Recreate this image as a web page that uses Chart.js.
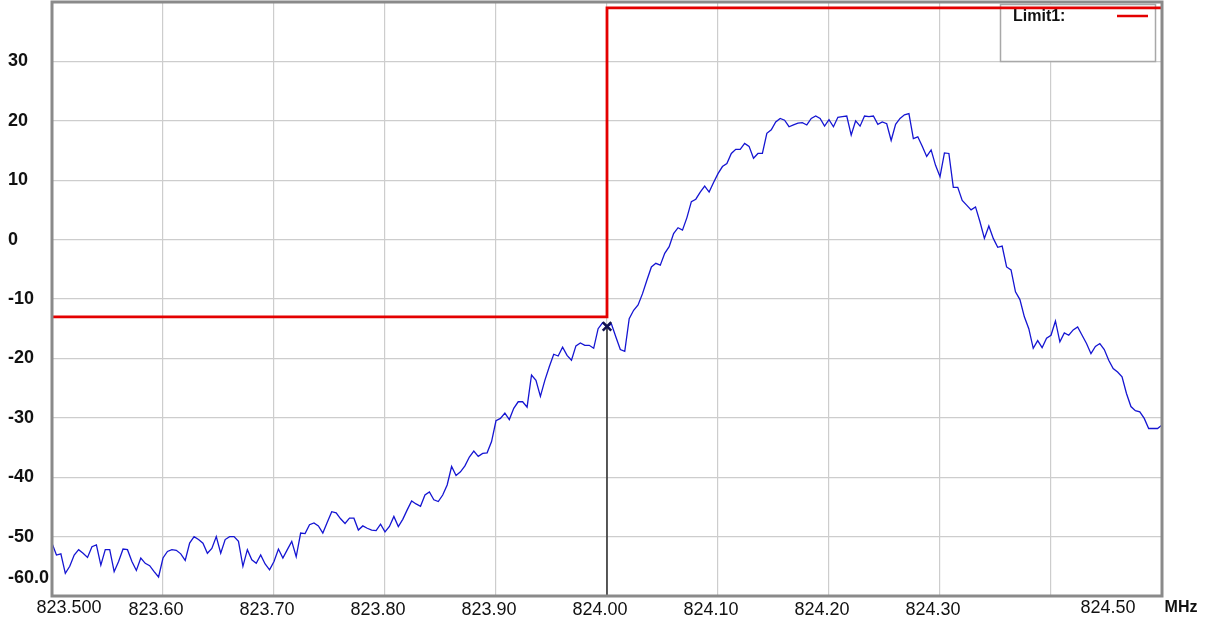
<!DOCTYPE html>
<html>
<head>
<meta charset="utf-8">
<script src="https://cdn.jsdelivr.net/npm/chart.js@4.4.0/dist/chart.umd.min.js"></script>
<style>
  html, body { margin: 0; padding: 0; background: #fff; }
  canvas { display: block; }
</style>
</head>
<body>
<canvas id="spectrum" width="1208" height="620"></canvas>
<script>
// sweep: 823.5 .. 824.5 MHz, one point every 4 kHz
var startFreq = 823.5;
var stopFreq = 824.5;
var freqStep = 0.004;

// trace level per sweep point, dBm
var levels = [
  -51.1, -53.1, -52.9, -56.2, -55.0, -53.1, -52.2, -52.8, -53.5, -51.7,
  -51.4, -54.8, -52.2, -52.2, -55.9, -54.2, -52.1, -52.2, -54.2, -55.7,
  -53.6, -54.5, -54.9, -55.9, -56.8, -53.6, -52.5, -52.2, -52.3, -52.9,
  -54.0, -51.1, -50.0, -50.5, -51.1, -52.8, -52.0, -50.0, -52.8, -50.5,
  -50.0, -50.0, -50.8, -55.0, -52.2, -53.9, -54.5, -53.1, -54.6, -55.6,
  -54.2, -52.1, -53.6, -52.2, -50.8, -53.4, -49.4, -49.5, -48.0, -47.7,
  -48.2, -49.4, -47.6, -45.8, -46.0, -47.0, -47.8, -46.9, -46.9, -48.9,
  -48.2, -48.6, -48.9, -49.0, -47.9, -49.2, -48.3, -46.6, -48.3, -47.1,
  -45.5, -44.0, -44.5, -44.9, -43.0, -42.5, -43.8, -44.1, -43.0, -41.3,
  -38.2, -39.7, -39.1, -38.1, -36.6, -35.6, -36.5, -36.0, -35.9, -34.0,
  -30.5, -30.1, -29.2, -30.3, -28.4, -27.3, -27.3, -28.2, -22.8, -23.7,
  -26.4, -23.7, -21.4, -19.3, -19.6, -18.1, -19.5, -20.3, -17.9, -17.4,
  -17.8, -17.8, -18.3, -15.0, -14.0, -14.7, -14.2, -16.4, -18.5, -18.8,
  -13.3, -11.9, -11.0, -9.1, -6.8, -4.6, -4.0, -4.3, -2.3, -1.2,
  1.0, 2.0, 1.6, 3.7, 6.4, 6.8, 8.0, 9.0, 8.0, 9.6,
  11.1, 12.3, 12.8, 14.5, 15.2, 15.2, 16.2, 15.7, 13.7, 14.5,
  14.5, 17.9, 18.5, 19.8, 20.4, 20.1, 19.0, 19.3, 19.6, 19.7,
  19.3, 20.4, 20.8, 20.4, 19.1, 20.2, 19.0, 20.6, 20.7, 20.8,
  17.6, 20.0, 19.1, 20.8, 20.7, 20.8, 19.4, 19.8, 19.5, 16.7,
  19.4, 20.4, 21.0, 21.2, 17.0, 17.3, 15.7, 14.0, 15.1, 12.5,
  10.6, 14.6, 14.5, 8.8, 8.8, 6.6, 5.8, 5.0, 5.5, 3.0,
  0.2, 2.3, 0.2, -1.3, -1.1, -4.6, -5.1, -8.8, -10.1, -13.0,
  -15.0, -18.3, -17.0, -18.2, -16.6, -16.1, -13.7, -17.2, -15.7, -16.1,
  -15.2, -14.7, -16.1, -17.5, -19.2, -18.0, -17.5, -18.5, -20.3, -21.7,
  -22.3, -23.1, -25.9, -28.1, -28.8, -29.0, -30.1, -31.8, -31.8, -31.8,
  -31.2
];

// limit line Limit1, MHz / dBm
var limitFreqs = [823.5, 824.0, 824.0, 824.5];
var limitLevels = [-13, -13, 39, 39];

// marker
var markerFreq = 824.0;
var markerLevel = -14.6;

// axis labels
var freqLabels = ['823.500', '823.60', '823.70', '823.80', '823.90', '824.00',
                  '824.10', '824.20', '824.30', '', '824.50'];
var levelLabels = ['-60.0', '-50', '-40', '-30', '-20', '-10', '0', '10', '20', '30', ''];
var freqUnit = 'MHz';

var fontFamily = '"Liberation Sans", Arial, sans-serif';

var trace = levels.map(function(v, i) {
    return { x: startFreq + i * freqStep, y: v };
});
var limit = limitFreqs.map(function(f, i) {
    return { x: f, y: limitLevels[i] };
});

// frame, legend box and the labels that sit off their ticks
var extras = {
    id: 'extras',
    beforeDatasetsDraw: function(chart) {
        var ctx = chart.ctx;
        var area = chart.chartArea;
        var bx = area.right - 162, by = area.top + 2, bw = 155, bh = 57;
        ctx.save();
        ctx.fillStyle = '#fff';
        ctx.fillRect(bx, by, bw, bh);
        ctx.strokeStyle = '#a8a8a8';
        ctx.lineWidth = 1.5;
        ctx.strokeRect(bx + 0.5, by + 0.5, bw, bh);
        ctx.fillStyle = '#111';
        ctx.font = 'bold 16px ' + fontFamily;
        ctx.textBaseline = 'middle';
        ctx.fillText(chart.data.datasets[0].label, bx + 13, by + 13);
        ctx.strokeStyle = chart.data.datasets[0].borderColor;
        ctx.lineWidth = 2.5;
        ctx.beginPath();
        ctx.moveTo(bx + 117, by + 12);
        ctx.lineTo(bx + 148, by + 12);
        ctx.stroke();
        ctx.restore();
    },
    afterDatasetsDraw: function(chart) {
        var ctx = chart.ctx;
        var a = chart.chartArea;
        ctx.save();
        ctx.strokeStyle = '#8a8a8a';
        ctx.lineWidth = 3;
        ctx.strokeRect(a.left, a.top, a.right - a.left, a.bottom - a.top);
        ctx.restore();
    },
    afterDraw: function(chart) {
        var ctx = chart.ctx;
        var xs = chart.scales.x, ys = chart.scales.y;
        var ly = chart.chartArea.bottom + 12;
        ctx.save();
        ctx.fillStyle = '#111';
        ctx.textBaseline = 'middle';
        ctx.textAlign = 'center';
        ctx.font = '18px ' + fontFamily;
        ctx.fillText(freqLabels[0], xs.getPixelForValue(startFreq) + 17, ly);
        ctx.fillText(freqLabels[10], xs.getPixelForValue(stopFreq) - 54, ly);
        ctx.font = 'bold 16px ' + fontFamily;
        ctx.fillText(freqUnit, xs.getPixelForValue(stopFreq) + 19, ly);
        ctx.textAlign = 'left';
        ctx.font = 'bold 18px ' + fontFamily;
        ctx.fillText(levelLabels[0], 8, ys.getPixelForValue(-60) - 18);
        ctx.restore();
    }
};

new Chart(document.getElementById('spectrum'), {
    type: 'line',
    data: {
        datasets: [{
            label: 'Limit1:',
            data: limit,
            borderColor: '#e40000',
            borderWidth: 2.8,
            pointRadius: 0
        }, {
            label: 'Marker',
            data: [{ x: markerFreq, y: markerLevel }],
            showLine: false,
            pointStyle: 'crossRot',
            pointRadius: 6,
            borderColor: '#121250',
            borderWidth: 2.5
        }, {
            label: 'Trace',
            data: trace,
            borderColor: '#1515d2',
            borderWidth: 1.3,
            pointRadius: 0
        }, {
            label: 'Marker line',
            data: [{ x: markerFreq, y: markerLevel }, { x: markerFreq, y: -60 }],
            borderColor: '#2a2a2a',
            borderWidth: 1.5,
            pointRadius: 0
        }]
    },
    options: {
        responsive: false,
        animation: false,
        layout: {
            autoPadding: false,
            padding: { left: 8, top: 2, right: 46, bottom: 0 }
        },
        plugins: {
            legend: { display: false },
            tooltip: { enabled: false }
        },
        scales: {
            x: {
                type: 'linear',
                min: startFreq,
                max: stopFreq,
                afterFit: function(s) {
                    s.height = 24;
                    s.paddingLeft = 0;
                    s.paddingRight = 0;
                },
                grid: { color: '#cdcdcd', lineWidth: 1.2, drawTicks: false },
                border: { display: false },
                ticks: {
                    stepSize: 0.1,
                    autoSkip: false,
                    maxRotation: 0,
                    padding: 3,
                    labelOffset: -7,
                    color: '#111',
                    font: { family: fontFamily, size: 18 },
                    callback: function(v, i) {
                        return (i === 0 || i === 10) ? '' : freqLabels[i];
                    }
                }
            },
            y: {
                min: -60,
                max: 40,
                afterFit: function(s) {
                    s.width = 44;
                    s.paddingTop = 0;
                    s.paddingBottom = 0;
                },
                grid: { color: '#cdcdcd', lineWidth: 1.2, drawTicks: false },
                border: { display: false },
                ticks: {
                    stepSize: 10,
                    crossAlign: 'far',
                    color: '#111',
                    font: { family: fontFamily, size: 18, weight: 'bold' },
                    callback: function(v, i) {
                        return i === 0 ? '' : levelLabels[i];
                    }
                }
            }
        }
    },
    plugins: [extras]
});
</script>
</body>
</html>
